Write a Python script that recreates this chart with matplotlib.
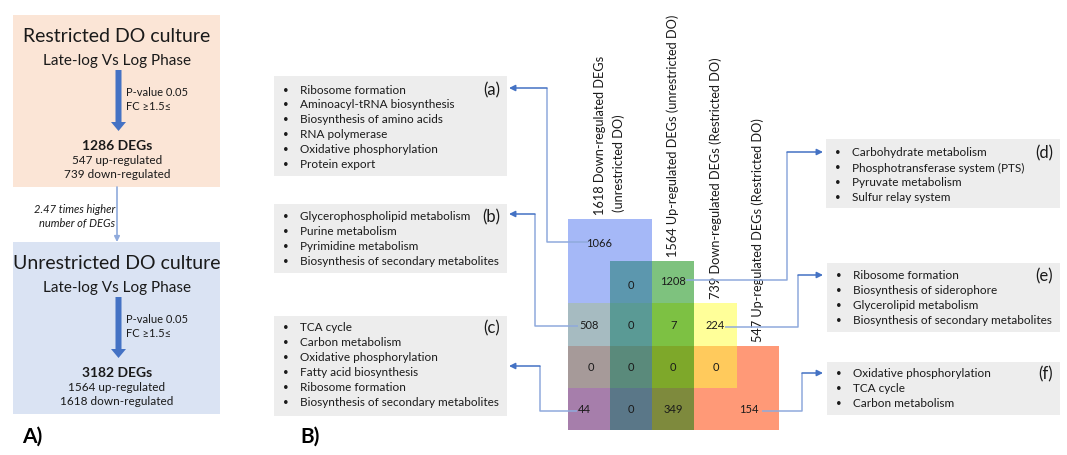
import matplotlib

matplotlib.use("Agg")
import matplotlib.pyplot as plt
from matplotlib.patches import FancyArrow, Rectangle

plt.rcParams["font.family"] = ["Lato", "DejaVu Sans"]

# ─── Panel A numbers ──────────────────────────────────────────────────
cultures = ["Restricted DO culture", "Unrestricted DO culture"]
deg_total = [1286, 3182]
deg_up = [547, 1564]
deg_down = [739, 1618]
p_value = 0.05
fold_change = 1.5
fold_ratio = 2.47

# ─── Panel B numbers ──────────────────────────────────────────────────
set_sizes = [1618, 1564, 739, 547]
set_names = ["Down-regulated DEGs", "Up-regulated DEGs",
             "Down-regulated DEGs", "Up-regulated DEGs"]
set_conditions = ["(unrestricted DO)", "(unrestricted DO)",
                  "(Restricted DO)", "(Restricted DO)"]

# overlap counts and the grid cell (row, col) they sit in
cell_counts = [1066, 0, 1208, 508, 0, 7, 224, 0, 0, 0, 0, 44, 0, 349, 154]
cell_rows = [0.55, 1.55, 1.45, 2.5, 2.5, 2.5, 2.5, 3.5, 3.5, 3.5, 3.5, 4.5, 4.5, 4.5, 4.5]
cell_cols = [0.75, 1.5, 2.5, 0.5, 1.5, 2.5, 3.5, 0.55, 1.5, 2.5, 3.5, 0.4, 1.5, 2.5, 4.3]

pathways_a = ["Ribosome formation", "Aminoacyl-tRNA biosynthesis",
              "Biosynthesis of amino acids", "RNA polymerase",
              "Oxidative phosphorylation", "Protein export"]
pathways_b = ["Glycerophospholipid metabolism", "Purine metabolism",
              "Pyrimidine metabolism", "Biosynthesis of secondary metabolites"]
pathways_c = ["TCA cycle", "Carbon metabolism", "Oxidative phosphorylation",
              "Fatty acid biosynthesis", "Ribosome formation",
              "Biosynthesis of secondary metabolites"]
pathways_d = ["Carbohydrate metabolism", "Phosphotransferase system (PTS)",
              "Pyruvate metabolism", "Sulfur relay system"]
pathways_e = ["Ribosome formation", "Biosynthesis of siderophore",
              "Glycerolipid metabolism", "Biosynthesis of secondary metabolites"]
pathways_f = ["Oxidative phosphorylation", "TCA cycle", "Carbon metabolism"]

# ─── Layout / style ───────────────────────────────────────────────────
ARROW = "#4472C4"
LINK = "#8FAADC"
TXT = "#1A1A1A"
GRID_X0, GRID_Y0, CELL = 567.7, 220.0, 42.2
# set extents on the grid: (col_start, col_end, row_start, row_end)
SET_SPANS = [(0, 2, 0, 5), (1, 3, 1, 5), (0, 4, 2, 4), (0, 5, 3, 5)]
COMBO_COLORS = {
    (0,): "#A5B8F7", (1,): "#7EC27E", (2,): "#FFFF99", (3,): "#FF9977",
    (0, 1): "#5C97AE", (0, 2): "#A6BBC1", (1, 2): "#7DC143", (2, 3): "#FFCA5C",
    (0, 3): "#A67EAB", (1, 3): "#7E8A3D", (0, 1, 2): "#5A9A95",
    (0, 2, 3): "#A69A99", (1, 2, 3): "#7EA82A", (0, 1, 3): "#5A7788",
    (0, 1, 2, 3): "#5A8A7B",
}

fig = plt.figure(figsize=(10.67, 4.56), dpi=100)
ax = fig.add_axes([0, 0, 1, 1])
ax.set_xlim(0, 1067)
ax.set_ylim(456, 0)
ax.axis("off")


def gx(c):
    return GRID_X0 + c * CELL


def gy(r):
    return GRID_Y0 + r * CELL


# ─── Panel A ──────────────────────────────────────────────────────────
box_colors = ["#FBE5D6", "#DAE3F3"]
for i, name in enumerate(cultures):
    dy = i * 227
    ax.add_patch(Rectangle((13, 16 + dy), 207, 172, color=box_colors[i], lw=0))
    ax.text(117, 37 + dy, name, ha="center", va="center", fontsize=14, color=TXT)
    ax.text(117, 61 + dy, "Late-log Vs Log Phase", ha="center", va="center",
            fontsize=11, color=TXT)
    ax.add_patch(FancyArrow(118.5, 71 + dy, 0, 61, width=6, head_width=15,
                            head_length=9, length_includes_head=True,
                            color=ARROW, lw=0))
    ax.text(126, 93 + dy, f"P-value {p_value}", ha="left", va="center",
            fontsize=8, color=TXT)
    ax.text(126, 107 + dy, f"FC \u2265{fold_change}\u2264", ha="left", va="center",
            fontsize=8, color=TXT)
    ax.text(117, 146 + dy, f"{deg_total[i]} DEGs", ha="center", va="center",
            fontsize=10, fontweight="bold", color=TXT)
    ax.text(117, 161 + dy, f"{deg_up[i]} up-regulated", ha="center", va="center",
            fontsize=8.5, color=TXT)
    ax.text(117, 175 + dy, f"{deg_down[i]} down-regulated", ha="center",
            va="center", fontsize=8.5, color=TXT)

ax.annotate("", xy=(117, 243), xytext=(117, 188),
            arrowprops=dict(arrowstyle="-|>", color=LINK, lw=1.2,
                            mutation_scale=8, shrinkA=0, shrinkB=0))
ax.text(115, 210, f"{fold_ratio} times higher", ha="right", va="center",
        fontsize=8, style="italic", color=TXT)
ax.text(115, 224, "number of DEGs", ha="right", va="center",
        fontsize=8, style="italic", color=TXT)

ax.text(22, 437, "A)", ha="left", va="center", fontsize=15, fontweight="bold")
ax.text(300, 437, "B)", ha="left", va="center", fontsize=15, fontweight="bold")

# ─── Panel B: overlap grid ────────────────────────────────────────────
for r in range(5):
    for c in range(5):
        members = tuple(k for k, (c0, c1, r0, r1) in enumerate(SET_SPANS)
                        if c0 <= c < c1 and r0 <= r < r1)
        if members:
            ax.add_patch(Rectangle((gx(c), gy(r)), CELL, CELL,
                                   color=COMBO_COLORS[members], lw=0))

for n, r, c in zip(cell_counts, cell_rows, cell_cols):
    ax.text(gx(c), gy(r), str(n), ha="center", va="center", fontsize=8,
            color=TXT, zorder=5)

# set labels, rotated, sitting on top of each set
label_x = [gx(1) - 10, gx(2.5), gx(3.5), gx(4.5)]
for k, (size, name, cond) in enumerate(zip(set_sizes, set_names, set_conditions)):
    top = gy(SET_SPANS[k][2]) - 5
    if k == 0:
        ax.text(label_x[k], top, f"{size} {name}", rotation=90, ha="center",
                va="bottom", fontsize=9.2, color=TXT)
        ax.text(label_x[k] + 19, top - 3, cond, rotation=90, ha="center",
                va="bottom", fontsize=9.2, color=TXT)
    else:
        ax.text(label_x[k], top, f"{size} {name} {cond}", rotation=90,
                ha="center", va="bottom", fontsize=9.2, color=TXT)

# ─── Panel B: pathway boxes ───────────────────────────────────────────
boxes = [
    ("(a)", pathways_a, 274, 77, 507, 177, 90),
    ("(b)", pathways_b, 274, 205, 507, 274, 217),
    ("(c)", pathways_c, 274, 317, 507, 417, 328),
    ("(d)", pathways_d, 826, 140, 1060, 209, 153),
    ("(e)", pathways_e, 827, 264, 1060, 333, 276),
    ("(f)", pathways_f, 827, 363, 1060, 416, 374),
]
for tag, items, x0, y0, x1, y1, first in boxes:
    ax.add_patch(Rectangle((x0, y0), x1 - x0, y1 - y0, color="#EDEDED", lw=0))
    for j, item in enumerate(items):
        ax.text(x0 + 9, first + 15 * j, "\u2022", ha="left", va="center",
                fontsize=7, color=TXT)
        ax.text(x0 + 26, first + 15 * j, item, ha="left", va="center",
                fontsize=8.5, color=TXT)
    ax.text(x1 - 7, first, tag, ha="right", va="center", fontsize=12, color=TXT)

# connectors from the grid counts to the pathway boxes
links = [
    [(588, 243), (547, 243), (547, 89), (509, 89)],
    [(578, 327), (535, 327), (535, 215), (509, 215)],
    [(577, 412), (540, 412), (540, 367), (509, 367)],
    [(686, 281), (787, 281), (787, 153), (823, 153)],
    [(725, 328), (798, 328), (798, 276), (823, 276)],
    [(762, 412), (802, 412), (802, 374), (823, 374)],
]
for pts in links:
    xs, ys = zip(*pts[:-1])
    ax.plot(xs, ys, color=LINK, lw=1.1, zorder=4, solid_capstyle="butt")
    ax.annotate("", xy=pts[-1], xytext=pts[-2],
                arrowprops=dict(arrowstyle="-|>", color=ARROW, lw=1.1,
                                mutation_scale=9, shrinkA=0, shrinkB=0),
                zorder=4)

fig.savefig("out.png", dpi=100)
